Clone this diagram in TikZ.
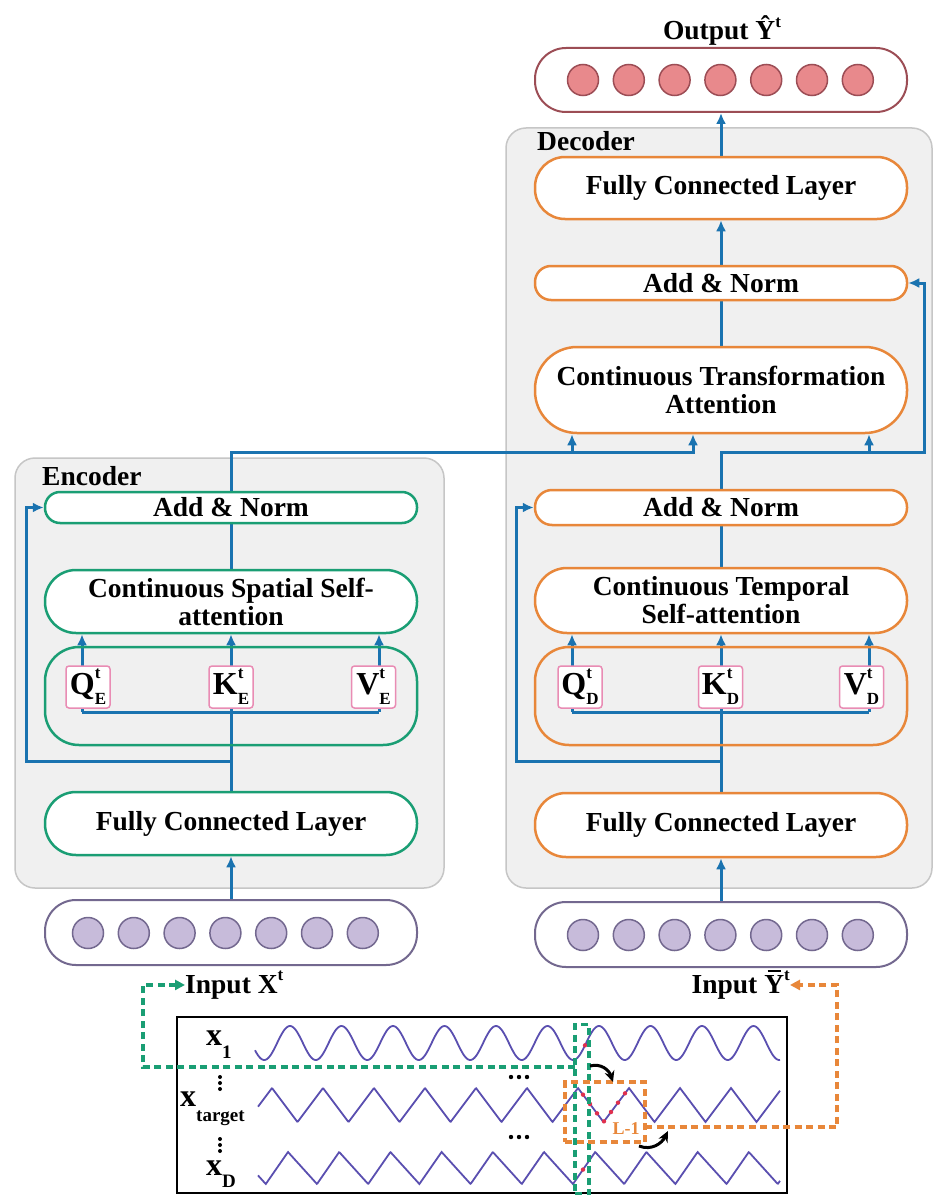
\documentclass[tikz,border=0pt]{standalone}
\usepackage{fontspec}
\setmainfont{Liberation Serif}
\usetikzlibrary{arrows.meta}
\pgfdeclarelayer{back}
\pgfdeclarelayer{mid}
\pgfsetlayers{back,mid,main}
\definecolor{cblue}{HTML}{1A73B0}
\definecolor{cgreen}{HTML}{1A9E74}
\definecolor{corange}{HTML}{E8873A}
\definecolor{cpink}{HTML}{E98CB4}
\definecolor{cgrayfill}{HTML}{F0F0F0}
\definecolor{cgraydraw}{HTML}{C6C6C6}
\definecolor{credfill}{HTML}{E8898C}
\definecolor{creddraw}{HTML}{9C4D55}
\definecolor{cpurfill}{HTML}{C7BBDA}
\definecolor{cpurdraw}{HTML}{73688F}
\definecolor{cwave}{HTML}{5A4FB0}
\definecolor{cdot}{HTML}{E0304E}
\newcommand\qkvlab[2]{#1\makebox[0pt][l]{\raisebox{16pt}{\fontsize{17}{17}\selectfont t}}\raisebox{-10pt}{\fontsize{17}{17}\selectfont #2}}
\newcommand\ybar{\ooalign{Y\cr\hidewidth\raisebox{21pt}{\rule{13pt}{2pt}}\hidewidth\cr}}
\tikzset{
  lbl/.style={font=\fontsize{27.5}{28}\selectfont\bfseries},
  panel/.style={draw=cgraydraw, fill=cgrayfill, line width=1.5pt, rounded corners=20pt, inner sep=0pt},
  encnode/.style={draw=cgreen, fill=white, line width=2.5pt, minimum width=372pt, inner sep=0pt, align=center, lbl},
  decnode/.style={encnode, draw=corange},
  qkvframe/.style={line width=2.5pt, rounded corners=34pt, minimum width=372pt, minimum height=98pt, inner sep=0pt},
  qkv/.style={draw=cpink, fill=white, line width=1.5pt, rounded corners=3pt, minimum width=44pt, minimum height=42pt, inner sep=0pt, font=\fontsize{32}{32}\selectfont\bfseries},
  capsule/.style={line width=2pt, fill=white, minimum width=372pt, minimum height=64pt, rounded corners=31pt, inner sep=0pt},
  redc/.style={circle, draw=creddraw, fill=credfill, line width=1.5pt, minimum size=31pt, inner sep=0pt},
  purc/.style={circle, draw=cpurdraw, fill=cpurfill, line width=1.5pt, minimum size=31pt, inner sep=0pt},
  link/.style={draw=cblue, line width=3pt},
  arr/.style={link, -{Latex[length=11pt,width=10pt]}},
  gdash/.style={draw=cgreen, line width=3.5pt, dash pattern=on 7pt off 4.5pt},
  odash/.style={draw=corange, line width=3.5pt, dash pattern=on 7pt off 4.5pt},
  xl/.style={font=\fontsize{32}{32}\selectfont\bfseries, inner sep=0pt, anchor=base west},
  curv/.style={draw=black, line width=3pt, -{Stealth[length=11pt,width=10pt]}},
}
\begin{document}
\begin{tikzpicture}[x=1pt, y=-1pt,
  declare function={
    tri(\t)=4*abs(\t-floor(\t)-0.5)-1;
    asw(\t)=((\t-floor(\t))<0.566)?(1-2*(\t-floor(\t))/0.566):(-1+2*(\t-floor(\t)-0.566)/0.434);
    sw(\t)=cos(360*(\t-floor(\t)));
  }]
\begin{pgfonlayer}{back}
\fill[white] (0,0) rectangle (934,1196);
\end{pgfonlayer}
\useasboundingbox (0,0) rectangle (934,1196);

% panels
\begin{pgfonlayer}{back}
\node[panel, minimum width=429pt, minimum height=430pt] (encP) at (229.5,673) {};
\node[panel, minimum width=426pt, minimum height=760pt] (decP) at (719,508) {};
\end{pgfonlayer}
\node[lbl, anchor=base west, inner sep=0pt] (encT) at (42,485) {Encoder};
\node[lbl, anchor=base west, inner sep=0pt] (decT) at (537,150) {Decoder};

% output
\node[lbl, anchor=base, inner sep=0pt] (outT) at (722,40) {Output Ŷ\raisebox{0.45em}{\fontsize{17}{17}\selectfont t}};
\node[capsule, draw=creddraw] (out) at (721,80) {};
\foreach \i in {0,...,6} \node[redc] (o\i) at ({583+45.8*\i},80) {};

% decoder nodes
\node[decnode, minimum height=62pt, rounded corners=30pt] (dFC2) at (721,188) {Fully Connected Layer};
\node[decnode, minimum height=34pt, rounded corners=16pt] (dAN2) at (721,283) {Add \& Norm};
\node[decnode, minimum height=86pt, rounded corners=42pt] (dCTA) at (721,390) {Continuous Transformation\\Attention};
\node[decnode, minimum height=35pt, rounded corners=17pt] (dAN1) at (721,507.5) {Add \& Norm};
\node[decnode, minimum height=65pt, rounded corners=32pt] (dCS) at (721,600.5) {Continuous Temporal\\Self-attention};
\node[qkvframe, draw=corange] (dQKV) at (721,696) {};
\node[qkv] (dQ) at (580,687) {\qkvlab{Q}{D}};
\node[qkv] (dK) at (720.5,687) {\qkvlab{K}{D}};
\node[qkv] (dV) at (861.5,687) {\qkvlab{V}{D}};
\node[decnode, minimum height=64pt, rounded corners=31pt] (dFC1) at (721,825) {Fully Connected Layer};
\node[capsule, draw=cpurdraw, minimum height=65pt] (dIn) at (721,934.5) {};
\foreach \i in {0,...,6} \node[purc] (di\i) at ({583+45.8*\i},935) {};

% encoder nodes
\node[encnode, minimum height=31pt, rounded corners=15pt] (eAN) at (231,507.5) {Add \& Norm};
\node[encnode, minimum height=63pt, rounded corners=31pt] (eCS) at (231,601.5) {Continuous Spatial Self-\\attention};
\node[qkvframe, draw=cgreen] (eQKV) at (231,696) {};
\node[qkv] (eQ) at (88,687) {\qkvlab{Q}{E}};
\node[qkv] (eK) at (231,687) {\qkvlab{K}{E}};
\node[qkv] (eV) at (373.5,687) {\qkvlab{V}{E}};
\node[encnode, minimum height=63pt, rounded corners=31pt] (eFC) at (231,823.5) {Fully Connected Layer};
\node[capsule, draw=cpurdraw, minimum height=65pt] (eIn) at (231,932.5) {};
\foreach \i in {0,...,6} \node[purc] (ei\i) at ({88+45.8*\i},933) {};

% connectors
\begin{pgfonlayer}{mid}
% encoder
\coordinate (eJ) at (231,712);
\coordinate (eR) at (231,761);
\coordinate (eL) at (26,761);
\coordinate (eQl) at (82,712);
\coordinate (eVl) at (379,712);
\draw[arr] (eIn.north) -- (eFC.south);
\draw[link] (eFC.north) -- (eJ);
\draw[arr] (eR) -- (eL) |- (eAN.west);
\draw[link] (eQl) -- (eVl);
\draw[arr] (eQl) -- (eQl |- eCS.south);
\draw[arr] (eJ) -- (eCS.south);
\draw[arr] (eVl) -- (eVl |- eCS.south);
\draw[link] (eCS.north) -- (eAN.south);
\coordinate (cL) at (231,452);
\coordinate (cM) at (693,452);
\coordinate (cA) at (572,452);
\draw[arr] (eAN.north) -- (cL) -- (cM) -- (cM |- dCTA.south);
\draw[arr] (cA) -- (cA |- dCTA.south);
% decoder
\coordinate (dJ) at (721,712);
\coordinate (dR) at (721,761);
\coordinate (dL) at (516,761);
\coordinate (dQl) at (572,712);
\coordinate (dVl) at (869,712);
\draw[arr] (dIn.north) -- (dFC1.south);
\draw[link] (dFC1.north) -- (dJ);
\draw[arr] (dR) -- (dL) |- (dAN1.west);
\draw[link] (dQl) -- (dVl);
\draw[arr] (dQl) -- (dQl |- dCS.south);
\draw[arr] (dJ) -- (dCS.south);
\draw[arr] (dVl) -- (dVl |- dCS.south);
\draw[link] (dCS.north) -- (dAN1.south);
\coordinate (dT) at (721,452);
\coordinate (dTR) at (924,452);
\coordinate (dB) at (869,452);
\draw[arr] (dAN1.north) -- (dT) -- (dTR) |- (dAN2.east);
\draw[arr] (dB) -- (dB |- dCTA.south);
\draw[link] (dCTA.north) -- (dAN2.south);
\draw[arr] (dAN2.north) -- (dFC2.south);
\draw[arr] (dFC2.north) -- (out.south);
\end{pgfonlayer}

% inputs labels
\node[lbl, anchor=base west, inner sep=0pt] (inX) at (185,993) {Input X\raisebox{0.45em}{\fontsize{17}{17}\selectfont t}};
\node[lbl, anchor=base east, inner sep=0pt] (inY) at (790,993) {Input \ybar\raisebox{0.45em}{\fontsize{17}{17}\selectfont t}};

% signal frame
\node[draw=black, fill=white, line width=2.5pt, minimum width=610pt, minimum height=176pt, inner sep=0pt] (frame) at (482,1105) {};
\draw[cwave, line width=1.8pt] plot[domain=255:780, samples=400] (\x,{1043-17*sw((\x-290)/51.5)});
\draw[cwave, line width=1.8pt] plot[domain=258:780, samples=800] (\x,{1105-17*tri((\x-272)/51)});
\draw[cwave, line width=1.8pt] plot[domain=258:780, samples=800] (\x,{1168-16*asw((\x-288)/51.2)});
\foreach \xx in {583,590,597,604,611,618,625} \fill[cdot] (\xx,{1105-17*tri((\xx-272)/51)}) circle (2.2);
\fill[cdot] (585,{1043-17*sw((585-290)/51.5)}) circle (2.2);
\fill[cdot] (583,{1168-16*asw((583-288)/51.2)}) circle (2.2);

\node[xl] (x1) at (206,1045) {x\raisebox{-13pt}{\fontsize{19}{19}\selectfont 1}};
\node[xl] (xt) at (180,1106) {x\raisebox{-15pt}{\fontsize{19}{19}\selectfont target}};
\node[xl] (xD) at (206,1175) {x\raisebox{-12pt}{\fontsize{19}{19}\selectfont D}};
\foreach \yy in {1077,1083,1089, 1139,1145,1151} \fill (220,\yy) circle (2);
\foreach \xx in {511,519,527} {\fill (\xx,1077) circle (2.2); \fill (\xx,1137) circle (2.2);}

% dashed selections
\node[draw=cgreen, line width=3.5pt, dash pattern=on 7pt off 4.5pt, minimum width=14pt, minimum height=169pt, inner sep=0pt] (gbox) at (582,1109) {};
\node[draw=corange, line width=3.5pt, dash pattern=on 7pt off 4.5pt, minimum width=80pt, minimum height=60pt, inner sep=0pt] (obox) at (605,1112) {};
\node[text=corange, font=\fontsize{18}{18}\selectfont\bfseries, inner sep=0pt] (L1) at (626,1129) {L-1};

\coordinate (gS) at (575,1067);
\coordinate (gC) at (143,1067);
\draw[gdash, -{Triangle[length=10pt,width=10pt]}] (gS) -- (gC) |- (inX.west);
\coordinate (oS) at (645,1127);
\coordinate (oC) at (837,1127);
\draw[odash, -{Triangle[length=10pt,width=10pt]}] (oS) -- (oC) |- (inY.east);

% curved arrows
\coordinate (a1s) at (590,1066);
\coordinate (a1e) at (613,1082);
\draw[curv] (a1s) .. controls (601,1063) and (609,1070) .. (a1e);
\coordinate (a2s) at (639,1146);
\coordinate (a2e) at (668,1131);
\draw[curv] (a2s) .. controls (652,1151) and (662,1143) .. (a2e);
\end{tikzpicture}
\end{document}
